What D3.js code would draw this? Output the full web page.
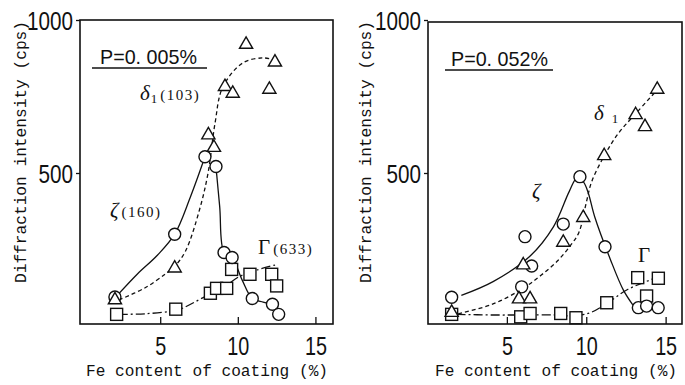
<!DOCTYPE html>
<html>
<head>
<meta charset="utf-8">
<script src="https://cdn.jsdelivr.net/npm/d3@7"></script>
<style>
  body { margin: 0; background: #fff; }
  svg text { fill: #111; }
</style>
</head>
<body>
<div id="chart"></div>
<script>
// ---- data: [Fe %, intensity cps] ----
const xTicks = [5, 10, 15];
const yTicks = [500, 1000];

// P = 0.005 %
const leftZeta = [[2.05, 95], [5.9, 300], [7.85, 553], [8.56, 521], [9.08, 240], [9.6, 224], [10.9, 90], [12.2, 71], [12.6, 38]];
const leftDelta = [[2.05, 85], [5.9, 189], [8.07, 624], [8.43, 583], [9.14, 782], [9.64, 760], [10.5, 920], [12.0, 773], [12.36, 862]];
const leftGamma = [[2.16, 38], [5.97, 55], [8.2, 107], [8.6, 123], [9.25, 123], [9.57, 185], [10.75, 169], [12.15, 169], [12.47, 131]];
const leftZetaCurve = [[2.2, 100], [3.5, 170], [4.8, 232], [5.9, 300], [6.9, 420], [7.85, 553]];
const leftZetaCurve2 = [[8.56, 521], [8.8, 390], [9.08, 240], [9.6, 224], [10.25, 150], [10.9, 90], [11.6, 78], [12.2, 71]];
const leftDeltaCurve = [[2.3, 85], [4, 125], [5.3, 170], [5.9, 195], [6.6, 245], [7.5, 380], [8.05, 500], [8.5, 663], [9.0, 781], [10.3, 860], [11.6, 876], [12.25, 870]];
const leftGammaCurve = [[2.3, 38], [4, 40], [5.9, 50], [6.4, 58], [7.85, 96], [8.6, 115], [9.3, 135], [10, 160], [11.2, 183], [12.5, 201]];

// P = 0.052 %
const rightZeta = [[1.49, 94], [5.9, 128], [6.11, 292], [6.53, 196], [8.52, 333], [9.57, 488], [11.15, 259], [13.25, 60], [13.77, 65], [14.5, 60]];
const rightDelta = [[1.49, 44], [5.73, 88], [6.43, 88], [6.0, 199], [8.52, 273], [9.78, 354], [11.1, 556], [13.08, 690], [13.67, 651], [14.44, 773]];
const rightGamma = [[1.49, 38], [5.84, 30], [6.43, 41], [8.36, 41], [9.32, 27], [11.26, 76], [13.21, 158], [13.77, 98], [14.51, 156]];
const rightZetaCurve = [[2.1, 100], [4.1, 145], [6.4, 227], [7.9, 324], [8.9, 440], [9.4, 485], [9.8, 470], [10.1, 434], [10.5, 357], [11.5, 216], [12.3, 118], [12.9, 69]];
const rightDeltaCurve = [[1.9, 40], [4, 70], [5.9, 120], [7.1, 165], [8.2, 215], [9.0, 265], [9.5, 305], [10.0, 410], [10.3, 470], [11.1, 556], [12.0, 630], [13.1, 695], [14.5, 775]];
const rightGammaCurve = [[1.8, 38], [4, 36], [6, 36], [8, 36], [9.3, 33], [10.3, 45], [11.3, 75], [12.6, 120], [14.5, 160]];

const width = 685, height = 385;

const svg = d3.select("#chart")
    .append("svg")
    .attr("width", width)
    .attr("height", height);

const panels = [
    {
        x0: 80, x1: 333, y0: 20, xDomain: [-0.2, 16.1], titleX: 20, xTitleX: 207,
        label: "P=0. 005%", labelX: 100, labelY: 64, underline: [92, 207], underY: 68,
        zeta: leftZeta, delta: leftDelta, gamma: leftGamma,
        zetaCurves: [leftZetaCurve, leftZetaCurve2], deltaCurve: leftDeltaCurve, gammaCurve: leftGammaCurve,
        notes: [
            { sym: "δ", sub: "1", tail: "(103)", x: 140, y: 100 },
            { sym: "ζ", sub: "", tail: "(160)", x: 110, y: 217 },
            { sym: "Γ", sub: "", tail: "(633)", x: 258, y: 254 }
        ]
    },
    {
        x0: 428, x1: 682, y0: 22, xDomain: [0, 16], titleX: 365, xTitleX: 556,
        label: "P=0. 052%", labelX: 451, labelY: 66, underline: [445, 553], underY: 70,
        zeta: rightZeta, delta: rightDelta, gamma: rightGamma,
        zetaCurves: [rightZetaCurve], deltaCurve: rightDeltaCurve, gammaCurve: rightGammaCurve,
        notes: [
            { sym: "δ", sub: "1", tail: "", x: 594, y: 120 },
            { sym: "ζ", sub: "", tail: "", x: 532, y: 198 },
            { sym: "Γ", sub: "", tail: "", x: 638, y: 262 }
        ]
    }
];

panels.forEach(drawPanel);

function drawPanel(p) {
    const x = d3.scaleLinear().domain(p.xDomain).range([p.x0, p.x1]);
    const y = d3.scaleLinear().domain([0, 1000]).range([326, 20]);
    const g = svg.append("g");

    // frame
    g.append("rect")
        .attr("x", p.x0).attr("y", p.y0)
        .attr("width", p.x1 - p.x0).attr("height", 324 - p.y0)
        .attr("fill", "none")
        .attr("stroke", "#111")
        .attr("stroke-width", 1.6);

    // x ticks point inward
    g.selectAll(".xt")
        .data(xTicks)
        .enter()
        .append("line")
        .attr("x1", d => x(d)).attr("x2", d => x(d))
        .attr("y1", 324).attr("y2", 317)
        .attr("stroke", "#111").attr("stroke-width", 1.3);

    g.selectAll(".xl")
        .data(xTicks)
        .enter()
        .append("text")
        .attr("x", d => x(d))
        .attr("y", 355)
        .attr("text-anchor", "middle")
        .attr("font-family", "Liberation Sans, Arial, sans-serif")
        .attr("font-size", 25)
        .attr("textLength", d => String(d).length * 11)
        .attr("lengthAdjust", "spacingAndGlyphs")
        .text(d => d);

    // y ticks point outward
    g.selectAll(".yt")
        .data(yTicks)
        .enter()
        .append("line")
        .attr("x1", p.x0 - 4).attr("x2", p.x0)
        .attr("y1", d => y(d) + 0.5).attr("y2", d => y(d) + 0.5)
        .attr("stroke", "#111").attr("stroke-width", 1.3);

    g.selectAll(".yl")
        .data(yTicks)
        .enter()
        .append("text")
        .attr("x", p.x0 - 7)
        .attr("y", d => y(d) + 10)
        .attr("text-anchor", "end")
        .attr("font-family", "Liberation Sans, Arial, sans-serif")
        .attr("font-size", 26)
        .attr("textLength", d => String(d).length * 11.5)
        .attr("lengthAdjust", "spacingAndGlyphs")
        .text(d => d);

    // axis titles
    g.append("text")
        .attr("transform", `translate(${p.titleX + 6},152) rotate(-90)`)
        .attr("text-anchor", "middle")
        .attr("font-family", "Liberation Mono, DejaVu Sans Mono, monospace")
        .attr("font-size", 16)
        .attr("textLength", 262)
        .attr("lengthAdjust", "spacingAndGlyphs")
        .text("Diffraction intensity (cps)");

    g.append("text")
        .attr("x", p.xTitleX)
        .attr("y", 376)
        .attr("text-anchor", "middle")
        .attr("font-family", "Liberation Mono, DejaVu Sans Mono, monospace")
        .attr("font-size", 16)
        .attr("textLength", 242)
        .attr("lengthAdjust", "spacingAndGlyphs")
        .text("Fe content of coating (%)");

    // P label with underline
    g.append("text")
        .attr("x", p.labelX)
        .attr("y", p.labelY)
        .attr("font-family", "Liberation Sans, Arial, sans-serif")
        .attr("font-size", 21)
        .attr("textLength", 97)
        .attr("lengthAdjust", "spacingAndGlyphs")
        .text(p.label);

    g.append("line")
        .attr("x1", p.underline[0]).attr("x2", p.underline[1])
        .attr("y1", p.underY).attr("y2", p.underY)
        .attr("stroke", "#111").attr("stroke-width", 1.3);

    // fitted curves
    const line = d3.line()
        .x(d => x(d[0]))
        .y(d => y(d[1]))
        .curve(d3.curveCatmullRom.alpha(0.5));

    p.zetaCurves.forEach(c => {
        g.append("path")
            .datum(c)
            .attr("d", line)
            .attr("fill", "none")
            .attr("stroke", "#111")
            .attr("stroke-width", 1.3);
    });

    g.append("path")
        .datum(p.deltaCurve)
        .attr("d", line)
        .attr("fill", "none")
        .attr("stroke", "#111")
        .attr("stroke-width", 1.3)
        .attr("stroke-dasharray", "4,3");

    g.append("path")
        .datum(p.gammaCurve)
        .attr("d", line)
        .attr("fill", "none")
        .attr("stroke", "#111")
        .attr("stroke-width", 1.3)
        .attr("stroke-dasharray", "9,3,2,3");

    // markers
    g.selectAll(".sq")
        .data(p.gamma)
        .enter()
        .append("rect")
        .attr("x", d => x(d[0]) - 6)
        .attr("y", d => y(d[1]) - 6)
        .attr("width", 12).attr("height", 12)
        .attr("fill", "#fff")
        .attr("stroke", "#111").attr("stroke-width", 1.4);

    g.selectAll(".ci")
        .data(p.zeta)
        .enter()
        .append("circle")
        .attr("cx", d => x(d[0]))
        .attr("cy", d => y(d[1]))
        .attr("r", 6)
        .attr("fill", "#fff")
        .attr("stroke", "#111").attr("stroke-width", 1.4);

    g.selectAll(".tr")
        .data(p.delta)
        .enter()
        .append("path")
        .attr("d", d3.symbol().type(d3.symbolTriangle).size(75))
        .attr("transform", d => `translate(${x(d[0])},${y(d[1])})`)
        .attr("fill", "#fff")
        .attr("stroke", "#111").attr("stroke-width", 1.4);

    // phase labels
    p.notes.forEach(n => {
        const t = g.append("text")
            .attr("x", n.x)
            .attr("y", n.y)
            .attr("font-family", "Liberation Serif, Times New Roman, serif");
        t.append("tspan")
            .attr("font-size", 21)
            .attr("font-style", n.sym === "Γ" ? "normal" : "italic")
            .text(n.sym);
        if (n.sub) {
            t.append("tspan")
                .attr("font-size", 13)
                .attr("dx", n.tail ? 1 : 8)
                .attr("dy", 3)
                .text(n.sub);
        }
        if (n.tail) {
            t.append("tspan")
                .attr("font-size", 15)
                .attr("dx", 3)
                .attr("dy", n.sub ? -3 : 0)
                .attr("letter-spacing", 1.5)
                .text(n.tail);
        }
    });
}
</script>
</body>
</html>
